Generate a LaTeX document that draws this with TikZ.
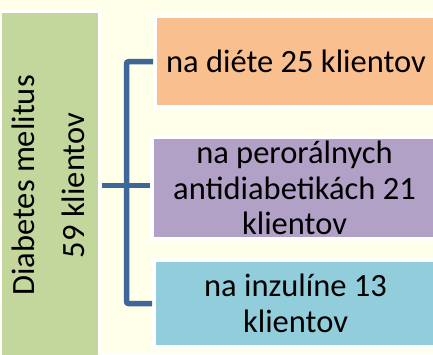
\documentclass[tikz,border=0pt]{standalone}
\usepackage{fontspec}
\setmainfont{Carlito}
\usepackage{graphicx}
\usetikzlibrary{positioning,calc}
\definecolor{dmcream}{RGB}{255,255,234}
\definecolor{dmgreen}{RGB}{195,214,155}
\definecolor{dmorange}{RGB}{250,191,143}
\definecolor{dmpurple}{RGB}{178,161,199}
\definecolor{dmblue}{RGB}{146,205,220}
\definecolor{dmline}{RGB}{62,102,152}

\begin{document}
\begin{tikzpicture}[x=1pt,y=1pt,
    box/.style={draw=white, line width=4pt, inner sep=0pt, align=center,
                font=\fontsize{32.5}{35.5}\selectfont},
    bracket/.style={draw=dmline, line width=5.5pt}]
    \path[use as bounding box, fill=dmcream] (0,0) rectangle (433,354);
    \clip (0,0) rectangle (433,354);

    % Left: the whole group
    \node[box, fill=dmgreen, minimum width=87pt, minimum height=349pt] (dm) at (49.5,168.5)
        {\rotatebox{90}{\fontsize{32.5}{50}\selectfont
         \begin{tabular}{@{}c@{}}Diabetes melitus\\59 klientov\end{tabular}}};

    % Right: the three parts
    \node[box, fill=dmorange, minimum width=282pt, minimum height=91.5pt] (diet) at (296,292.25)
        {na diéte 25 klientov};
    \node[box, fill=dmpurple, minimum width=285pt, minimum height=102pt] (oral) at (294.5,166)
        {na perorálnych\\antidiabetikách 21\\klientov};
    \node[box, fill=dmblue, minimum width=283pt, minimum height=87pt] (insulin) at (295.5,50.5)
        {na inzulíne 13\\klientov};

    % Bracket
    \coordinate (fork) at (126.5,168);
    \draw[bracket] (dm.east) -- (dm.east -| oral.west);
    \draw[bracket, rounded corners=2pt] (diet.west) -| (fork) |- (insulin.west);
\end{tikzpicture}
\end{document}
